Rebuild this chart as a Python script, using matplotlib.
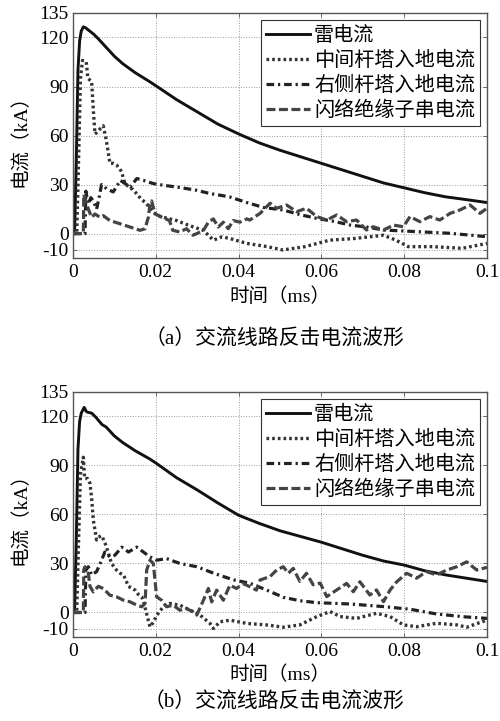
import matplotlib
matplotlib.use("Agg")
import matplotlib.pyplot as plt

CJK = ['Liberation Serif', 'Noto Sans CJK SC']

# ---- panel (a) ----
a_t_lightning = [0, 0.0004, 0.0008, 0.0012, 0.0016, 0.002, 0.0025, 0.003, 0.0035, 0.004, 0.005,
                 0.006, 0.008, 0.01, 0.012, 0.015, 0.0185, 0.02, 0.025, 0.03, 0.035, 0.04, 0.045,
                 0.05, 0.055, 0.06, 0.065, 0.07, 0.075, 0.08, 0.085, 0.09, 0.095, 0.1]
a_lightning = [0, 3, 45, 100, 118, 124, 126.5, 126, 125, 124, 122,
               119.5, 114, 108.5, 104, 98.5, 93, 90.5, 82, 74.5, 67, 61, 55.5,
               51, 47, 43, 39, 35, 31, 28, 25, 22.5, 20.8, 19]

a_t_mid = [0, 0.0009, 0.0013, 0.0018, 0.0023, 0.0032, 0.0036, 0.0045, 0.0049, 0.0053, 0.0058,
           0.0065, 0.0073, 0.0079, 0.0085, 0.0089, 0.0097, 0.0105, 0.0112, 0.0117, 0.0125,
           0.0137, 0.0145, 0.0155, 0.0165, 0.0175, 0.0185, 0.0194, 0.0205, 0.0218, 0.025,
           0.028, 0.0315, 0.0339, 0.036, 0.0379, 0.042, 0.047, 0.0507, 0.056, 0.062, 0.068,
           0.075, 0.078, 0.081, 0.087, 0.094, 0.1]
a_mid = [0, 0, 40, 95, 106, 105, 95, 93, 76, 61, 62,
         64, 66, 59, 50, 43, 43, 42, 40, 38, 31,
         28, 27, 24, 21, 19, 16, 13, 11, 10, 8,
         5, 2, -4, -2, -3, -6, -8, -10, -8, -4, -3,
         -1, -4, -8, -8, -9, -6]

a_t_right = [0, 0.0029, 0.0031, 0.0037, 0.0043, 0.0049, 0.0057, 0.0063, 0.0069, 0.0081, 0.0097,
             0.0106, 0.0114, 0.0126, 0.0138, 0.0146, 0.0154, 0.017, 0.0194, 0.0218, 0.025,
             0.0275, 0.0299, 0.0331, 0.0355, 0.0379, 0.042, 0.046, 0.0508, 0.055, 0.0589,
             0.063, 0.067, 0.071, 0.075, 0.083, 0.091, 0.1]
a_right = [0, 0, 26, 18, 22, 20, 15, 22, 30, 27.5, 25.5,
           29, 32.6, 30.6, 28.5, 31, 33.7, 32.6, 30.6, 29.6, 28.5,
           27.5, 26.5, 24.5, 23.5, 22.4, 19, 16, 14.4, 11.5, 9.3,
           7.5, 5.2, 4, 2.2, 1.2, 0.2, -1.9]

a_t_ins = [0, 0.0025, 0.0026, 0.0031, 0.0037, 0.0045, 0.0053, 0.0065, 0.0073, 0.0089, 0.0114,
           0.0138, 0.0162, 0.0174, 0.0182, 0.0186, 0.019, 0.0194, 0.0199, 0.0215, 0.0233,
           0.0241, 0.0258, 0.0274, 0.029, 0.0299, 0.0315, 0.0327, 0.0339, 0.0351, 0.0363,
           0.0375, 0.0387, 0.0403, 0.042, 0.0427, 0.0452, 0.0476, 0.0492, 0.0516, 0.054,
           0.0564, 0.0589, 0.0613, 0.0637, 0.0661, 0.0685, 0.0709, 0.0725, 0.075, 0.0774,
           0.0798, 0.0814, 0.0838, 0.0862, 0.0886, 0.0911, 0.0935, 0.0959, 0.0983, 0.1]
a_ins = [0, 0, 24, 20, 15, 10, 12, 10, 11, 8, 6,
         4, 2, 3, 10, 18, 20, 16, 12, 10, 8,
         2, 1, 3, -1, 0, 2, 7, 9, 4, 7,
         3, 8, 7, 9, 8.3, 12.4, 18.6, 15.5, 17.5, 13.4,
         15.5, 10.4, 8.3, 11.4, 7.3, 8.3, 2.2, 4.2, 2.2, 5.2,
         4.2, 10.4, 7.3, 10.4, 8.3, 12.4, 14.5, 17.5, 12.4, 15.5]

# ---- panel (b) ----
b_t_lightning = [0, 0.0004, 0.0008, 0.0012, 0.0016, 0.002, 0.0027, 0.0032, 0.0036, 0.0045, 0.0055,
                 0.007, 0.008, 0.01, 0.012, 0.015, 0.0185, 0.02, 0.025, 0.03, 0.035, 0.04, 0.045,
                 0.05, 0.055, 0.06, 0.065, 0.07, 0.075, 0.08, 0.085, 0.09, 0.095, 0.1]
b_lightning = [0, 3, 45, 100, 117, 122, 125.5, 123, 122.5, 122, 119.5,
               115, 113.5, 108, 104, 99, 94, 91.5, 82.5, 75, 67, 59.5, 54.5,
               50, 46.5, 43, 39, 35, 31.5, 29, 25.5, 23, 21, 19]

b_t_mid = [0, 0.0009, 0.0013, 0.0018, 0.0025, 0.0028, 0.0035, 0.0041, 0.0045, 0.0049, 0.0057,
           0.0061, 0.0069, 0.0075, 0.0081, 0.0093, 0.0105, 0.0114, 0.0122, 0.0134, 0.015,
           0.0158, 0.0166, 0.0172, 0.0178, 0.0186, 0.0194, 0.0202, 0.021, 0.0222, 0.0234,
           0.0258, 0.0283, 0.0307, 0.0331, 0.0339, 0.0355, 0.0379, 0.042, 0.0467, 0.0508,
           0.0548, 0.0589, 0.0621, 0.0645, 0.0685, 0.0733, 0.0766, 0.0798, 0.083, 0.0878,
           0.0927, 0.0951, 0.1]
b_mid = [0, 0, 40, 85, 95, 82, 82, 79, 70, 56.6, 44.4,
         46, 47, 44, 40, 30, 26, 24, 23, 16, 13.7,
         11, 9.6, 5, -1, -8.8, -6, -2, 1, 4.5, 5.5,
         4.5, 1.4, -1.6, -6.7, -9.8, -5.7, -4.7, -6.7, -7.6, -9,
         -7.6, -2.5, 0.6, -2.5, -3.6, -0.5, -2.5, -7.6, -8.7, -6.6,
         -7.6, -9, -4.6]

b_t_right = [0, 0.0029, 0.0031, 0.0037, 0.0045, 0.0057, 0.0069, 0.0077, 0.0089, 0.0101, 0.0118,
             0.0134, 0.0154, 0.017, 0.0186, 0.0202, 0.0226, 0.0258, 0.0299, 0.034, 0.0387,
             0.0427, 0.0467, 0.0508, 0.0548, 0.0589, 0.067, 0.075, 0.0814, 0.0878, 0.0943, 0.1]
b_right = [0, 0, 26, 28, 23, 25, 32, 37, 34, 35, 40,
           37, 40, 37, 34, 32, 33, 30, 28, 24, 20,
           17.9, 13.8, 9.3, 7.2, 6, 5.2, 3.6, 2, -0.9, -2.6, -3.6]

b_t_ins = [0, 0.0025, 0.0026, 0.0029, 0.0037, 0.0041, 0.0049, 0.0061, 0.0073, 0.0089, 0.0105,
           0.0122, 0.0138, 0.0154, 0.0166, 0.0174, 0.0178, 0.0186, 0.0194, 0.0202, 0.0214,
           0.0226, 0.0242, 0.0258, 0.0274, 0.029, 0.0299, 0.0315, 0.0327, 0.0335, 0.0347,
           0.0363, 0.0379, 0.0395, 0.0411, 0.0427, 0.0443, 0.0452, 0.0476, 0.0492, 0.0508,
           0.052, 0.0532, 0.0548, 0.0564, 0.058, 0.0597, 0.0613, 0.0637, 0.0661, 0.0677,
           0.0693, 0.0717, 0.0733, 0.075, 0.0766, 0.0782, 0.0806, 0.083, 0.0854, 0.0878,
           0.0903, 0.0927, 0.0951, 0.0975, 0.1]
b_ins = [0, 0, 26, 28, 24, 16, 12.6, 16, 14.7, 10.6, 9.6,
         7.5, 6.5, 4.5, 3.5, 5.5, 26, 32, 30, 9.6, 7.5,
         3.5, 4.5, 1.4, 2.4, 0.4, -1.6, 7.5, 14.7, 6.5, 13.7,
         7.5, 16.7, 14.7, 17.7, 15.8, 13.7, 19.9, 22, 26, 28,
         24, 27, 19, 24, 17, 18, 9.7, 13.8, 17.8, 12.7,
         18.8, 10.7, 13.8, 6.6, 13.8, 18.8, 24, 21, 25, 23,
         26, 28, 31, 26, 27.6]

series_names = ["雷电流", "中间杆塔入地电流", "右侧杆塔入地电流", "闪络绝缘子串电流"]
x_ticks = [0, 0.02, 0.04, 0.06, 0.08, 0.1]
x_tick_labels = ["0", "0.02", "0.04", "0.06", "0.08", "0.1"]
y_ticks = [-10, 0, 30, 60, 90, 120, 135]
captions = ["（a）交流线路反击电流波形", "（b）交流线路反击电流波形"]

panels = [
    (a_t_lightning, a_lightning, a_t_mid, a_mid, a_t_right, a_right, a_t_ins, a_ins),
    (b_t_lightning, b_lightning, b_t_mid, b_mid, b_t_right, b_right, b_t_ins, b_ins),
]

fig = plt.figure(figsize=(5, 7.21), dpi=100)
axes = [fig.add_axes([0.146, 0.642, 0.828, 0.340]),
        fig.add_axes([0.146, 0.1165, 0.828, 0.340])]

for ax, data in zip(axes, panels):
    tl, l, tm, m, tr, r, ti, ins = data
    ax.plot(tl, l, color='#111111', lw=2.1, ls='-', label=series_names[0])
    ax.plot(tm, m, color='#333333', lw=2.4, ls=(0, (0.8, 0.9)), label=series_names[1])
    ax.plot(tr, r, color='#222222', lw=2.3, ls=(0, (2.4, 1.2, 0.7, 1.2)), label=series_names[2])
    ax.plot(ti, ins, color='#444444', lw=2.3, ls=(0, (2.8, 1.1)), label=series_names[3])

    ax.set_xlim(0, 0.1)
    ax.set_ylim(-15, 135)
    ax.set_xticks(x_ticks)
    ax.set_xticklabels(x_tick_labels)
    ax.set_yticks(y_ticks)
    ax.set_yticklabels([str(v) for v in y_ticks])
    for lab in ax.get_xticklabels() + ax.get_yticklabels():
        lab.set_fontfamily('Liberation Serif')
        lab.set_fontsize(14)
    ax.tick_params(axis='both', direction='in', length=3, width=0.6, color='#555555',
                   top=True, right=True)
    ax.tick_params(axis='x', pad=4)
    ax.tick_params(axis='y', pad=3)
    ax.grid(True, ls=':', lw=0.7, color='#999999')
    for s in ax.spines.values():
        s.set_color('#555555')
        s.set_linewidth(1.0)

    ax.set_xlabel("时间（ms）", family=CJK, fontsize=14, labelpad=4.5)
    ax.set_ylabel("电流（kA）", family=CJK, fontsize=14, labelpad=7)

    leg = ax.legend(loc='upper right', prop={'family': 'Noto Sans CJK SC', 'size': 14.5},
                    frameon=True, fancybox=False, framealpha=1, edgecolor='#333333',
                    handlelength=2.2, handletextpad=0.2, labelspacing=0.2,
                    borderpad=0.25, borderaxespad=0.35)
    leg.get_frame().set_linewidth(0.8)

fig.text(0.548, 1 - 340 / 721, captions[0], family=CJK, fontsize=15, ha='center', va='center')
fig.text(0.548, 1 - 703 / 721, captions[1], family=CJK, fontsize=15, ha='center', va='center')

fig.savefig("out.png", dpi=100)
